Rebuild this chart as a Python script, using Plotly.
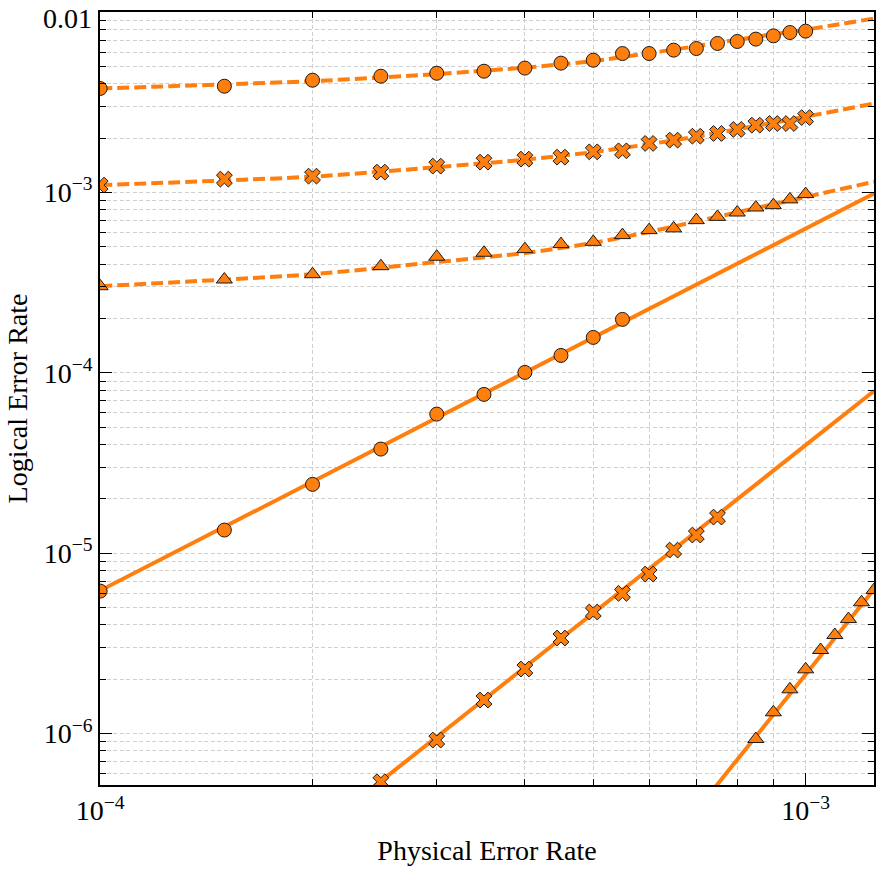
import plotly.graph_objects as go

# ---------------- data ----------------
p_dashed = [1.0e-4, 1.5e-4, 2.0e-4, 2.5e-4, 3.0e-4, 3.5e-4, 4.0e-4, 4.5e-4, 5.0e-4, 5.5e-4,
            6.0e-4, 6.5e-4, 7.0e-4, 7.5e-4, 8.0e-4, 8.5e-4, 9.0e-4, 9.5e-4, 1.0e-3]
circle_dashed = [3.77e-3, 3.88e-3, 4.19e-3, 4.41e-3, 4.58e-3, 4.70e-3, 4.89e-3, 5.21e-3, 5.41e-3, 5.89e-3,
                 5.89e-3, 6.15e-3, 6.28e-3, 6.70e-3, 6.87e-3, 7.08e-3, 7.38e-3, 7.70e-3, 7.84e-3]
cross_dashed = [1.098e-3, 1.185e-3, 1.231e-3, 1.296e-3, 1.399e-3, 1.472e-3, 1.530e-3, 1.569e-3, 1.679e-3, 1.701e-3,
                1.869e-3, 1.950e-3, 2.051e-3, 2.123e-3, 2.235e-3, 2.36e-3, 2.41e-3, 2.41e-3, 2.60e-3]
triangle_dashed = [3.02e-4, 3.29e-4, 3.52e-4, 3.90e-4, 4.40e-4, 4.63e-4, 4.85e-4, 5.17e-4, 5.32e-4, 5.80e-4,
                   6.18e-4, 6.32e-4, 7.02e-4, 7.32e-4, 7.74e-4, 8.25e-4, 8.50e-4, 9.15e-4, 9.79e-4]

# fitted curves for the dashed series
p_fit = [1e-4, 2e-4, 3e-4, 4e-4, 5e-4, 6e-4, 7e-4, 8e-4, 9e-4, 1e-3, 1.25e-3]
circle_fit = [3.77e-3, 4.14e-3, 4.53e-3, 4.92e-3, 5.34e-3, 5.92e-3, 6.47e-3, 7.03e-3, 7.54e-3, 7.99e-3, 9.21e-3]
cross_fit = [1.098e-3, 1.223e-3, 1.381e-3, 1.52e-3, 1.673e-3, 1.852e-3, 2.038e-3, 2.243e-3, 2.435e-3, 2.63e-3, 3.11e-3]
triangle_fit = [3.02e-4, 3.52e-4, 4.11e-4, 4.61e-4, 5.25e-4, 6.04e-4, 6.91e-4, 7.76e-4, 8.61e-4, 9.44e-4, 1.145e-3]

# solid series
p_circle_solid = [1.0e-4, 1.5e-4, 2.0e-4, 2.5e-4, 3.0e-4, 3.5e-4, 4.0e-4, 4.5e-4, 5.0e-4, 5.5e-4]
circle_solid = [6.16e-6, 1.343e-5, 2.406e-5, 3.776e-5, 5.90e-5, 7.59e-5, 1.005e-4, 1.248e-4, 1.571e-4, 1.977e-4]
p_cross_solid = [2.5e-4, 3.0e-4, 3.5e-4, 4.0e-4, 4.5e-4, 5.0e-4, 5.5e-4, 6.0e-4, 6.5e-4, 7.0e-4, 7.5e-4]
cross_solid = [5.40e-7, 9.20e-7, 1.533e-6, 2.278e-6, 3.383e-6, 4.716e-6, 5.985e-6, 7.66e-6, 1.040e-5, 1.26e-5, 1.585e-5]
p_triangle_solid = [8.5e-4, 9.0e-4, 9.5e-4, 1.0e-3, 1.05e-3, 1.1e-3, 1.15e-3, 1.2e-3, 1.25e-3]
triangle_solid = [9.32e-7, 1.311e-6, 1.758e-6, 2.269e-6, 2.904e-6, 3.516e-6, 4.31e-6, 5.34e-6, 6.24e-6]

# straight (power-law) fit lines for the solid series, end points
circle_solid_fit_p = [1.0e-4, 1.25e-3]
circle_solid_fit = [6.2e-6, 9.87e-4]
cross_solid_fit_p = [2.4e-4, 1.25e-3]
cross_solid_fit = [4.8e-7, 7.92e-5]
triangle_solid_fit_p = [7.4e-4, 1.25e-3]
triangle_solid_fit = [4.9e-7, 6.3e-6]

# ticks
x_major = [1e-4, 1e-3]
x_major_text = ["10<sup>\u22124</sup>", "10<sup>\u22123</sup>"]
x_minor = [2e-4, 3e-4, 4e-4, 5e-4, 6e-4, 7e-4, 8e-4, 9e-4]
y_major = [1e-6, 1e-5, 1e-4, 1e-3, 1e-2]
y_major_text = ["10<sup>\u22126</sup>", "10<sup>\u22125</sup>", "10<sup>\u22124</sup>",
                "10<sup>\u22123</sup>", ""]
y_top_value = 1e-2
y_top_text = "0.01"
mantissas = [2, 3, 4, 5, 6, 7, 8, 9]
decades = [1e-7, 1e-6, 1e-5, 1e-4, 1e-3]
y_minor = [m * d for d in decades for m in mantissas]

# ---------------- style ----------------
ORANGE = "#ff7f0e"
FONT = "Liberation Serif"

fig = go.Figure()

def add_line(x, y, dash):
    fig.add_trace(go.Scatter(x=x, y=y, mode="lines",
                             line=dict(color=ORANGE, width=4, dash=dash, shape="spline", smoothing=0.6),
                             showlegend=False, hoverinfo="skip"))

def add_markers(x, y, symbol, size):
    fig.add_trace(go.Scatter(x=x, y=y, mode="markers",
                             marker=dict(symbol=symbol, size=size, color=ORANGE,
                                         line=dict(color="#1a1a1a", width=1)),
                             showlegend=False))

dash = "12px,5px"
add_line(p_fit, circle_fit, dash)
add_line(p_fit, cross_fit, dash)
add_line(p_fit, triangle_fit, dash)
add_line(circle_solid_fit_p, circle_solid_fit, "solid")
add_line(cross_solid_fit_p, cross_solid_fit, "solid")
add_line(triangle_solid_fit_p, triangle_solid_fit, "solid")

add_markers(p_dashed, circle_dashed, "circle", 14)
add_markers(p_dashed, cross_dashed, "x", 14)
add_markers(p_dashed, triangle_dashed, "triangle-up", 14)
add_markers(p_circle_solid, circle_solid, "circle", 14)
add_markers(p_cross_solid, cross_solid, "x", 14)
add_markers(p_triangle_solid, triangle_solid, "triangle-up", 14)

GRID = "#cfcfcf"
common = dict(
    showline=True, linecolor="black", linewidth=1.5, mirror="allticks",
    ticks="inside", ticklen=12, tickwidth=1.3, tickcolor="black",
    showgrid=True, gridcolor=GRID, griddash="4px,2.5px", gridwidth=1,
    zeroline=False, automargin=False,
    tickfont=dict(family=FONT, size=28, color="black"),
)

fig.update_xaxes(
    type="log", range=[-4.0002, -2.9031],
    tickmode="array", tickvals=x_major, ticktext=x_major_text,
    minor=dict(tickmode="array", tickvals=x_minor, ticks="inside", ticklen=6, tickwidth=1.2,
               tickcolor="black", showgrid=True, gridcolor=GRID, griddash="4px,2.5px", gridwidth=1),
    title=dict(text="Physical Error Rate", font=dict(family=FONT, size=28, color="black"), standoff=15),
    **common,
)
fig.update_yaxes(
    type="log", range=[-6.2855, -1.9996],
    tickmode="array", tickvals=y_major, ticktext=y_major_text,
    minor=dict(tickmode="array", tickvals=y_minor, ticks="inside", ticklen=6, tickwidth=1.2,
               tickcolor="black", showgrid=True, gridcolor=GRID, griddash="4px,2.5px", gridwidth=1),
    title=dict(text="Logical Error Rate", font=dict(family=FONT, size=28, color="black"), standoff=8),
    **common,
)

# label of the top major tick, nudged down so that it stays inside the page
fig.add_annotation(
    x=0, xref="paper", y=-2.0, yref="y",
    text=y_top_text, showarrow=False,
    xanchor="right", yanchor="middle", xshift=-6, yshift=-6,
    font=dict(family=FONT, size=28, color="black"),
)

fig.update_layout(
    width=886, height=886,
    margin=dict(l=100, r=12, t=12, b=101),
    paper_bgcolor="white", plot_bgcolor="white",
    showlegend=False,
)

fig.write_html("out.html")
